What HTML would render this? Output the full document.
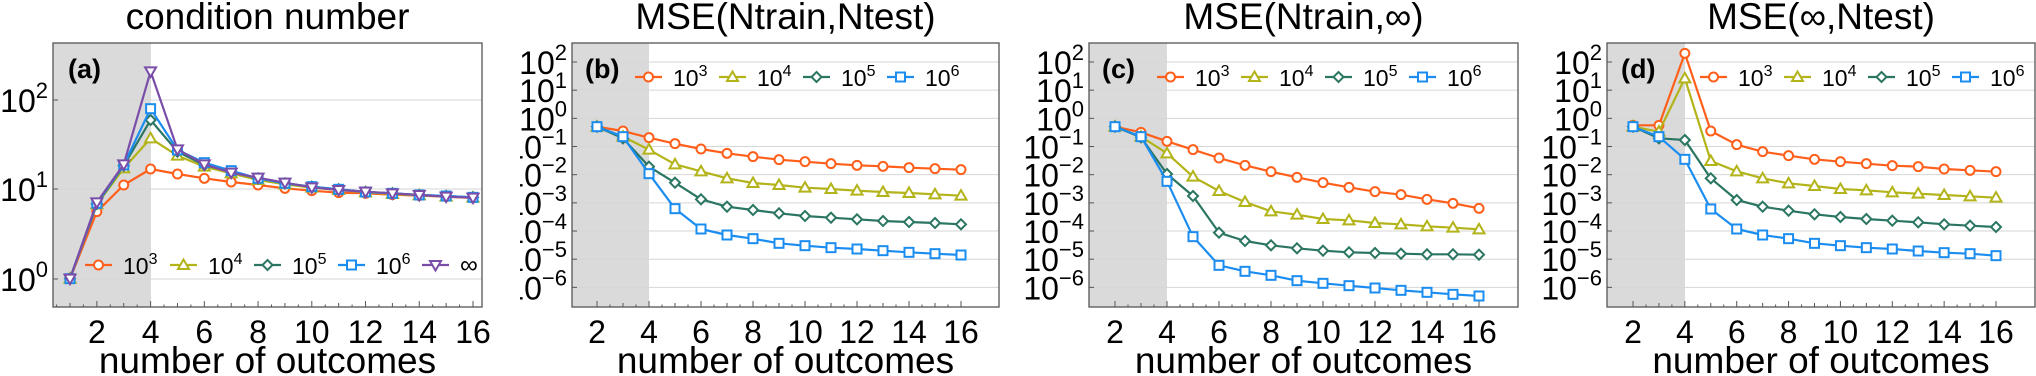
<!DOCTYPE html>
<html><head><meta charset="utf-8"><style>
html,body{margin:0;padding:0;background:#fff;width:2036px;height:376px;overflow:hidden}
svg text{font-family:"Liberation Sans",sans-serif;fill:#000}
</style></head><body>
<svg id="s" width="2036" height="376" xmlns="http://www.w3.org/2000/svg"></svg>
<script>
const C={o:'#ff5f1a',y:'#b3b31a',g:'#2b7662',b:'#1b8df0',p:'#7a4ea8'};
const panels=[
 {ox:0,w:520,L:53,R:482,x0:1,x1:16,px0:70,px1:473,shade:151,title:'condition number',lab:'(a)',labx:68,
  grid:[[100,'2'],[189,'1'],[279,'0']],
  series:[
   ['o','c',[836,635,555,507,522,535,546,555,565,572,578,580,584,587,590,594]],
   ['y','t',[836,613,505,415,467,500,520,540,553,563,570,577,582,586,590,593]],
   ['g','d',[836,612,497,360,455,495,515,535,550,560,568,576,580,585,588,592]],
   ['b','s',[836,610,495,326,450,488,512,535,550,560,568,576,580,585,588,592]],
   ['p','v',[836,607,493,214,448,493,518,533,548,562,570,575,580,585,590,593]]],
  leg:{y:265,xs:[85,170,254,338,422],t:['3','4','5','6','∞']}},
 {ox:520,w:500,L:572,R:999,x0:2,x1:16,px0:597,px1:961,shade:649,title:'MSE(Ntrain,Ntest)',lab:'(b)',labx:585,
  series:[
   ['o','c',[380,393,413,431,447,460,470,479,485,491,496,499,503,506,509]],
   ['y','t',[380,410,449,493,514,535,549,555,563,567,572,576,579,583,587]],
   ['g','d',[380,415,500,548,598,620,630,640,648,653,658,663,666,669,673]],
   ['b','s',[380,410,521,626,687,705,716,730,737,743,747,752,757,761,765]]],
  leg:{y:77,xs:[635,719,803,887],t:['3','4','5','6']}},
 {ox:1020,w:506,L:1089,R:1518,x0:2,x1:16,px0:1115,px1:1479,shade:1167,title:'MSE(Ntrain,∞)',lab:'(c)',labx:1102,
  series:[
   ['o','c',[380,397,424,449,474,496,515,532,548,562,575,584,598,610,625]],
   ['y','t',[380,410,460,530,573,606,634,644,657,661,669,673,679,683,688]],
   ['g','d',[380,412,522,588,698,723,736,745,752,757,759,761,763,763,764]],
   ['b','s',[380,410,544,710,796,814,826,842,850,857,864,871,877,883,888]]],
  leg:{y:77,xs:[1157,1241,1325,1409],t:['3','4','5','6']}},
 {ox:1526,w:510,L:1607,R:2035,x0:2,x1:16,px0:1633,px1:1996,shade:1685,title:'MSE(∞,Ntest)',lab:'(d)',labx:1621,
  series:[
   ['o','c',[376,376,160,393,434,455,467,478,485,491,497,500,507,511,515]],
   ['y','t',[380,395,235,483,514,535,550,558,567,571,577,581,585,589,593]],
   ['g','d',[380,415,420,535,600,620,632,643,651,657,662,667,673,677,681]],
   ['b','s',[380,410,478,627,687,705,716,730,737,743,747,753,758,761,767]]],
  leg:{y:77,xs:[1700,1784,1868,1952],t:['3','4','5','6']}}
];
function marker(k,x,y,col){
 const sw=2;
 if(k==='c')return `<circle cx="${x}" cy="${y}" r="4.5" fill="#fff" stroke="${col}" stroke-width="${sw}"/>`;
 if(k==='s')return `<rect x="${x-4.5}" y="${y-4.5}" width="9" height="9" fill="#fff" stroke="${col}" stroke-width="${sw}"/>`;
 if(k==='d')return `<polygon points="${x},${y-5} ${x+5},${y} ${x},${y+5} ${x-5},${y}" fill="#fff" stroke="${col}" stroke-width="${sw}"/>`;
 if(k==='t')return `<polygon points="${x},${y-5.5} ${x+5.5},${y+4} ${x-5.5},${y+4}" fill="#fff" stroke="${col}" stroke-width="${sw}"/>`;
 if(k==='v')return `<polygon points="${x},${y+5.5} ${x+5.5},${y-4} ${x-5.5},${y-4}" fill="#fff" stroke="${col}" stroke-width="${sw}"/>`;
}
let out='';
const T=43,B=307;
for(const p of panels){
 let s='';
 const step=(p.px1-p.px0)/(p.x1-p.x0);
 const X=v=>p.px0+(v-p.x0)*step;
 s+=`<rect x="${p.L}" y="${T}" width="${p.shade-p.L}" height="${B-T}" fill="#dadada"/>`;
 let grid=p.grid||[0,1,2,3,4,5,6,7,8].map(i=>[62+i*28.17,(2-i)+'']);
 for(const [gy,e] of grid){
  s+=`<line x1="${p.L}" x2="${p.R}" y1="${gy}" y2="${gy}" stroke="#d6d6d6" stroke-width="1"/>`;
  s+=`<line x1="${p.L}" x2="${p.L+5}" y1="${gy}" y2="${gy}" stroke="#555" stroke-width="1"/>`;
  const ee=e.replace('-','−');
  s+=`<text x="${p.L-5}" y="${gy+12}" text-anchor="end" font-size="32">10<tspan font-size="22" dy="-14">${ee}</tspan></text>`;
 }
 for(let v=(p.x0===1?0.5:p.x0);v<=p.x1+0.01;v+=0.5){
  const x=X(v); if(x<p.L||x>p.R)continue;
  const major=Number.isInteger(v);
  s+=`<line x1="${x}" x2="${x}" y1="${B}" y2="${B-(major?(v%2===0?6:4):2.5)}" stroke="#555" stroke-width="1"/>`;
 }
 for(let v=2;v<=16;v+=2)s+=`<text x="${X(v)}" y="343" text-anchor="middle" font-size="32">${v}</text>`;
 s+=`<rect x="${p.L}" y="${T}" width="${p.R-p.L}" height="${B-T}" fill="none" stroke="#555" stroke-width="1.3"/>`;
 for(const [c,m,ys] of p.series){
  const pts=ys.map((y,i)=>[X(p.x0+i),y/3]);
  s+=`<polyline points="${pts.map(q=>q.join(',')).join(' ')}" fill="none" stroke="${C[c]}" stroke-width="2.2" stroke-linejoin="round"/>`;
  for(const q of pts)s+=marker(m,q[0],q[1],C[c]);
 }
 p.series.forEach(([c,m],i)=>{
  const x=p.leg.xs[i],y=p.leg.y;
  s+=`<line x1="${x}" x2="${x+27}" y1="${y}" y2="${y}" stroke="${C[c]}" stroke-width="2.2"/>`;
  s+=marker(m,x+13.5,y,C[c]);
  const t=p.leg.t[i];
  if(t==='∞')s+=`<text x="${x+38}" y="${y+8}" font-size="25">∞</text>`;
  else s+=`<text x="${x+38}" y="${y+9}" font-size="23">10<tspan font-size="16" dy="-10">${t}</tspan></text>`;
 });
 s+=`<text x="${p.labx}" y="78" font-size="27" font-weight="bold">${p.lab}</text>`;
 const cx=(p.L+p.R)/2;
 s+=`<text x="${cx}" y="29" text-anchor="middle" font-size="37">${p.title}</text>`;
 s+=`<text x="${cx}" y="373" text-anchor="middle" font-size="37">number of outcomes</text>`;
 out+=`<svg x="${p.ox}" y="0" width="${p.w}" height="376" viewBox="${p.ox} 0 ${p.w} 376" overflow="hidden">${s}</svg>`;
}
document.getElementById('s').innerHTML=out;
</script>
</body></html>
